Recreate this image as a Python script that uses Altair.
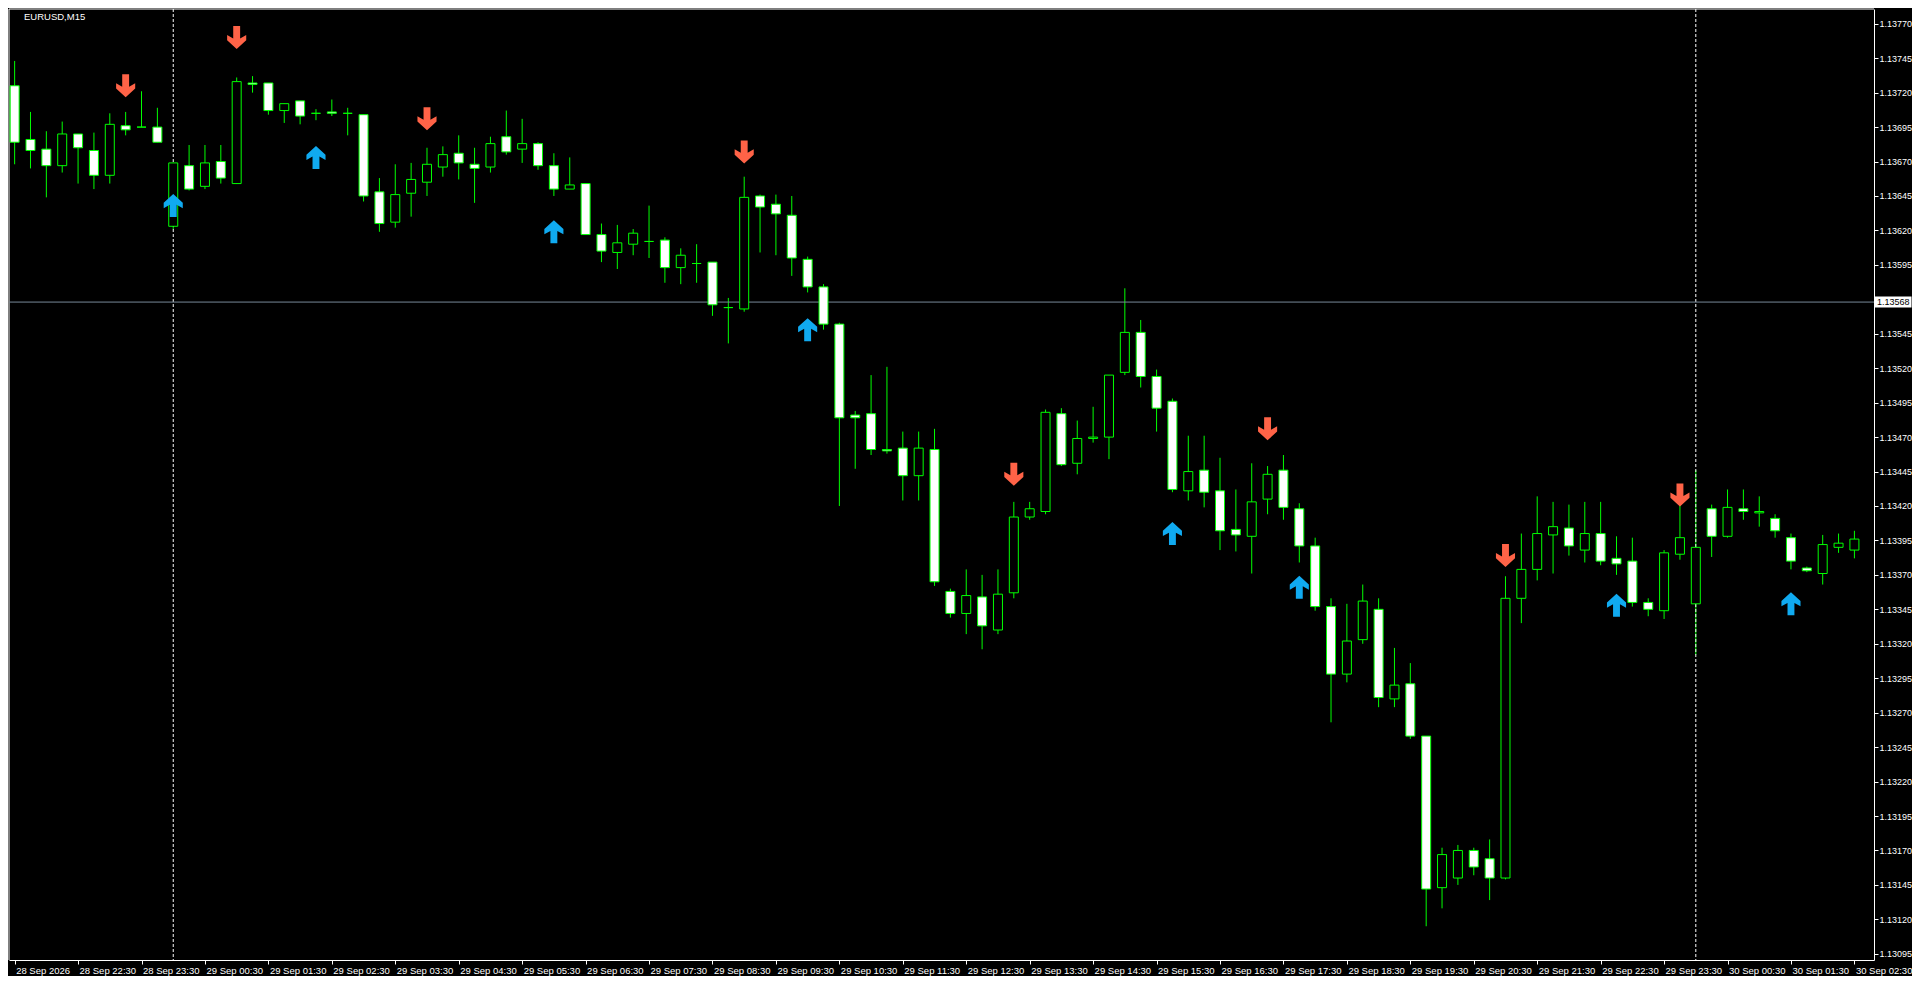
import json
import altair as alt
import pandas as pd

symbol_title = "EURUSD,M15"
bid_price = 1.13568
bid_label = "1.13568"

time_labels = [
    "28 Sep 2026", "28 Sep 22:30", "28 Sep 23:30",
    "29 Sep 00:30", "29 Sep 01:30", "29 Sep 02:30", "29 Sep 03:30", "29 Sep 04:30",
    "29 Sep 05:30", "29 Sep 06:30", "29 Sep 07:30", "29 Sep 08:30", "29 Sep 09:30",
    "29 Sep 10:30", "29 Sep 11:30", "29 Sep 12:30", "29 Sep 13:30", "29 Sep 14:30",
    "29 Sep 15:30", "29 Sep 16:30", "29 Sep 17:30", "29 Sep 18:30", "29 Sep 19:30",
    "29 Sep 20:30", "29 Sep 21:30", "29 Sep 22:30", "29 Sep 23:30",
    "30 Sep 00:30", "30 Sep 01:30", "30 Sep 02:30",
]

price_ticks = [
    1.13095, 1.13120, 1.13145, 1.13170, 1.13195, 1.13220, 1.13245, 1.13270,
    1.13295, 1.13320, 1.13345, 1.13370, 1.13395, 1.13420, 1.13445, 1.13470,
    1.13495, 1.13520, 1.13545, 1.13595, 1.13620, 1.13645, 1.13670, 1.13695,
    1.13720, 1.13745, 1.13770,
]

opens = [
    1.13725, 1.13686, 1.13679, 1.13667, 1.13690, 1.13678, 1.13660, 1.13696, 1.13695, 1.13695,
    1.13623, 1.13667, 1.13652, 1.13670, 1.13654, 1.13727, 1.13727, 1.13707, 1.13714, 1.13705,
    1.13706, 1.13705, 1.13704, 1.13648, 1.13626, 1.13647, 1.13655, 1.13666, 1.13676, 1.13668,
    1.13666, 1.13688, 1.13679, 1.13683, 1.13667, 1.13650, 1.13654, 1.13617, 1.13604, 1.13610,
    1.13612, 1.13613, 1.13593, 1.13596, 1.13597, 1.13564, 1.13563, 1.13645, 1.13639, 1.13631,
    1.13599, 1.13579, 1.13552, 1.13486, 1.13487, 1.13461, 1.13462, 1.13442, 1.13461, 1.13358,
    1.13342, 1.13354, 1.13330, 1.13357, 1.13412, 1.13416, 1.13487, 1.13451, 1.13469, 1.13470,
    1.13517, 1.13546, 1.13514, 1.13496, 1.13431, 1.13446, 1.13431, 1.13403, 1.13398, 1.13425,
    1.13446, 1.13418, 1.13391, 1.13347, 1.13298, 1.13323, 1.13345, 1.13280, 1.13291, 1.13253,
    1.13143, 1.13150, 1.13170, 1.13164, 1.13150, 1.13353, 1.13374, 1.13399, 1.13404, 1.13388,
    1.13400, 1.13382, 1.13380, 1.13350, 1.13344, 1.13385, 1.13349, 1.13418, 1.13398, 1.13418,
    1.13415, 1.13411, 1.13397, 1.13375, 1.13371, 1.13390, 1.13388,
]
highs = [
    1.13743, 1.13706, 1.13692, 1.13699, 1.13690, 1.13691, 1.13705, 1.13706, 1.13721, 1.13709,
    1.13669, 1.13682, 1.13682, 1.13682, 1.13731, 1.13732, 1.13727, 1.13712, 1.13714, 1.13708,
    1.13715, 1.13709, 1.13704, 1.13658, 1.13668, 1.13669, 1.13680, 1.13681, 1.13689, 1.13680,
    1.13688, 1.13707, 1.13701, 1.13684, 1.13676, 1.13673, 1.13654, 1.13625, 1.13624, 1.13621,
    1.13638, 1.13615, 1.13607, 1.13610, 1.13597, 1.13571, 1.13659, 1.13646, 1.13646, 1.13645,
    1.13601, 1.13581, 1.13553, 1.13489, 1.13515, 1.13521, 1.13474, 1.13474, 1.13476, 1.13360,
    1.13374, 1.13370, 1.13374, 1.13423, 1.13423, 1.13490, 1.13491, 1.13482, 1.13492, 1.13515,
    1.13578, 1.13555, 1.13519, 1.13498, 1.13471, 1.13471, 1.13455, 1.13432, 1.13451, 1.13449,
    1.13457, 1.13422, 1.13397, 1.13353, 1.13349, 1.13363, 1.13353, 1.13317, 1.13306, 1.13253,
    1.13172, 1.13174, 1.13172, 1.13178, 1.13369, 1.13400, 1.13427, 1.13423, 1.13421, 1.13423,
    1.13423, 1.13398, 1.13397, 1.13353, 1.13388, 1.13421, 1.13446, 1.13421, 1.13432, 1.13432,
    1.13427, 1.13414, 1.13400, 1.13376, 1.13399, 1.13400, 1.13402,
]
lows = [
    1.13668, 1.13665, 1.13644, 1.13662, 1.13654, 1.13650, 1.13654, 1.13689, 1.13695, 1.13684,
    1.13621, 1.13649, 1.13650, 1.13654, 1.13654, 1.13720, 1.13704, 1.13698, 1.13697, 1.13700,
    1.13703, 1.13689, 1.13641, 1.13619, 1.13622, 1.13630, 1.13645, 1.13659, 1.13657, 1.13640,
    1.13662, 1.13675, 1.13669, 1.13664, 1.13645, 1.13650, 1.13617, 1.13597, 1.13592, 1.13602,
    1.13600, 1.13582, 1.13581, 1.13582, 1.13558, 1.13538, 1.13561, 1.13604, 1.13602, 1.13587,
    1.13575, 1.13548, 1.13420, 1.13447, 1.13457, 1.13458, 1.13424, 1.13424, 1.13362, 1.13339,
    1.13327, 1.13316, 1.13327, 1.13353, 1.13410, 1.13414, 1.13449, 1.13443, 1.13466, 1.13454,
    1.13515, 1.13506, 1.13474, 1.13430, 1.13424, 1.13419, 1.13388, 1.13387, 1.13371, 1.13414,
    1.13410, 1.13379, 1.13344, 1.13263, 1.13292, 1.13320, 1.13274, 1.13274, 1.13251, 1.13115,
    1.13128, 1.13145, 1.13152, 1.13134, 1.13149, 1.13335, 1.13366, 1.13371, 1.13384, 1.13379,
    1.13377, 1.13370, 1.13347, 1.13340, 1.13338, 1.13381, 1.13312, 1.13383, 1.13397, 1.13410,
    1.13405, 1.13397, 1.13374, 1.13372, 1.13363, 1.13386, 1.13382,
]
closes = [
    1.13684, 1.13678, 1.13667, 1.13690, 1.13680, 1.13660, 1.13697, 1.13693, 1.13695, 1.13684,
    1.13669, 1.13650, 1.13669, 1.13658, 1.13728, 1.13726, 1.13707, 1.13712, 1.13703, 1.13705,
    1.13705, 1.13705, 1.13645, 1.13625, 1.13646, 1.13657, 1.13668, 1.13675, 1.13669, 1.13665,
    1.13683, 1.13677, 1.13683, 1.13667, 1.13650, 1.13653, 1.13617, 1.13605, 1.13611, 1.13618,
    1.13612, 1.13593, 1.13602, 1.13596, 1.13566, 1.13564, 1.13644, 1.13637, 1.13632, 1.13600,
    1.13579, 1.13552, 1.13484, 1.13484, 1.13461, 1.13460, 1.13442, 1.13462, 1.13365, 1.13342,
    1.13355, 1.13333, 1.13356, 1.13412, 1.13418, 1.13488, 1.13450, 1.13469, 1.13470, 1.13515,
    1.13546, 1.13514, 1.13491, 1.13432, 1.13445, 1.13430, 1.13402, 1.13399, 1.13423, 1.13443,
    1.13419, 1.13391, 1.13347, 1.13298, 1.13322, 1.13351, 1.13281, 1.13290, 1.13253, 1.13142,
    1.13167, 1.13170, 1.13158, 1.13150, 1.13353, 1.13374, 1.13400, 1.13405, 1.13391, 1.13400,
    1.13380, 1.13378, 1.13350, 1.13345, 1.13386, 1.13397, 1.13390, 1.13398, 1.13419, 1.13416,
    1.13416, 1.13402, 1.13380, 1.13373, 1.13392, 1.13393, 1.13396,
]

down_arrow_bars = [7, 14, 26, 46, 63, 79, 94, 105]
down_arrow_prices = [1.13725, 1.13760, 1.13701, 1.13677, 1.13443, 1.13476, 1.13384, 1.13428]
up_arrow_bars = [10, 19, 34, 50, 73, 81, 101, 112]
up_arrow_prices = [1.13638, 1.13673, 1.13619, 1.13548, 1.13400, 1.13361, 1.13348, 1.13349]

separator_bars = [10, 106]

# ---------------- layout / style ----------------
TW, TH = 1904, 968          # whole canvas (view covers all of it)
PL, PT = 1, 1               # plot-area left / top inside the canvas
PR, PB = 1866, 952          # plot-area right / bottom inside the canvas
FONT = "Liberation Sans"
FS = 9.5
FS_Y = 9
GREEN = "#00ff00"
BULL_FILL = "#000000"
BEAR_FILL = "#ffffff"
DOWN_COLOR = "#ff6347"
UP_COLOR = "#10aaf0"
BID_COLOR = "#778899"
WHITE = "#ffffff"

DOWN_PATH = ("M-0.3,-1 L0.3,-1 L0.3,0.08 L0.83,-0.22 L0.83,0.24 L0,1 "
             "L-0.83,0.24 L-0.83,-0.22 L-0.3,0.08 Z")
UP_PATH = ("M-0.3,1 L0.3,1 L0.3,-0.08 L0.83,0.22 L0.83,-0.24 L0,-1 "
           "L-0.83,-0.24 L-0.83,0.22 L-0.3,-0.08 Z")
BOX_PATH = "M-1,-0.3 L1,-0.3 L1,0.3 L-1,0.3 Z"

candles = pd.DataFrame({
    "bar": list(range(len(opens))),
    "o": opens, "h": highs, "l": lows, "c": closes,
})
downs = pd.DataFrame({"bar": down_arrow_bars, "p": down_arrow_prices})
ups = pd.DataFrame({"bar": up_arrow_bars, "p": up_arrow_prices})
seps = pd.DataFrame({"bar": separator_bars})
bid = pd.DataFrame({"p": [bid_price], "t": [bid_label]})
title_df = pd.DataFrame({"t": [symbol_title]})

xs = alt.Scale(domain=[-0.04, 116.92], range=[PL, PR], nice=False, zero=False)
ys = alt.Scale(domain=[1.130905, 1.137807], range=[PB, PT], nice=False, zero=False)

label_expr = json.dumps(time_labels) + "[round(datum.value / 4)]"

x_axis = alt.Axis(
    values=list(range(0, len(opens), 4)), labelExpr=label_expr, title=None,
    orient="bottom", offset=-(TH - PB), labelAlign="left", labelBaseline="top",
    labelColor=WHITE, labelFont=FONT, labelFontSize=FS, labelPadding=1, labelOffset=1,
    tickColor=WHITE, tickSize=4, domainColor=WHITE, grid=False,
    labelOverlap=False, labelFlush=False, labelBound=False, zindex=2,
)
y_axis = alt.Axis(
    values=price_ticks, format=".5f", title=None, orient="right", offset=-(TW - PR),
    labelColor=WHITE, labelFont=FONT, labelFontSize=FS_Y, labelPadding=1,
    tickColor=WHITE, tickSize=4, domainColor=WHITE, grid=False,
    labelOverlap=False, labelFlush=False, labelBound=False, zindex=2,
)


def X(field):
    return alt.X(field, scale=xs, axis=x_axis, title=None)


def Y(field):
    return alt.Y(field, scale=ys, axis=y_axis, title=None)


frame_top = alt.Chart(title_df).mark_rule(color=WHITE, strokeWidth=1).encode(
    x=alt.value(PL), x2=alt.value(PR), y=alt.value(PT),
)
frame_left = alt.Chart(title_df).mark_rule(color=WHITE, strokeWidth=1).encode(
    x=alt.value(PL), y=alt.value(PT), y2=alt.value(PB),
)

wicks = alt.Chart(candles).mark_rule(color=GREEN, strokeWidth=1).encode(
    x=X("bar:Q"), y=Y("l:Q"), y2="h:Q",
)

bodies = alt.Chart(candles).mark_bar(size=9, stroke=GREEN, strokeWidth=1, opacity=1).encode(
    x=X("bar:Q"), y=Y("o:Q"), y2="c:Q",
    fill=alt.condition("datum.c >= datum.o", alt.value(BULL_FILL), alt.value(BEAR_FILL)),
)

sep_layer = alt.Chart(seps).mark_rule(color=WHITE, strokeDash=[3, 2], strokeWidth=1).encode(
    x=X("bar:Q"), y=alt.value(PT), y2=alt.value(PB),
)

bid_line = alt.Chart(bid).mark_rule(color=BID_COLOR, strokeWidth=1).encode(
    x=alt.value(PL), x2=alt.value(PR), y=Y("p:Q"),
)

down_layer = alt.Chart(downs).mark_point(
    shape=DOWN_PATH, filled=True, size=529, color=DOWN_COLOR, opacity=1, strokeWidth=0
).encode(x=X("bar:Q"), y=Y("p:Q"))

up_layer = alt.Chart(ups).mark_point(
    shape=UP_PATH, filled=True, size=529, color=UP_COLOR, opacity=1, strokeWidth=0
).encode(x=X("bar:Q"), y=Y("p:Q"))

bid_box = alt.Chart(bid).mark_point(
    shape=BOX_PATH, filled=True, size=1369, color=WHITE, opacity=1, strokeWidth=0
).encode(x=alt.value(PR + 19), y=Y("p:Q"))

bid_text = alt.Chart(bid).mark_text(
    align="left", baseline="middle", color="#000000", font=FONT, fontSize=FS_Y
).encode(x=alt.value(PR + 3), y=Y("p:Q"), text="t:N")

title_layer = alt.Chart(title_df).mark_text(
    align="left", baseline="middle", color=WHITE, font=FONT, fontSize=FS
).encode(x=alt.value(PL + 15), y=alt.value(PT + 8), text="t:N")

chart = alt.layer(
    frame_top, frame_left, wicks, sep_layer, bid_line, bodies, down_layer, up_layer,
    bid_box, bid_text, title_layer
).properties(
    width=TW, height=TH,
    autosize=alt.AutoSizeParams(type="none"),
    padding=0,
    background="#000000",
).configure_view(
    stroke=None, fill="#000000",
)

chart.save("out.html", embed_options={"renderer": "svg", "actions": False})
